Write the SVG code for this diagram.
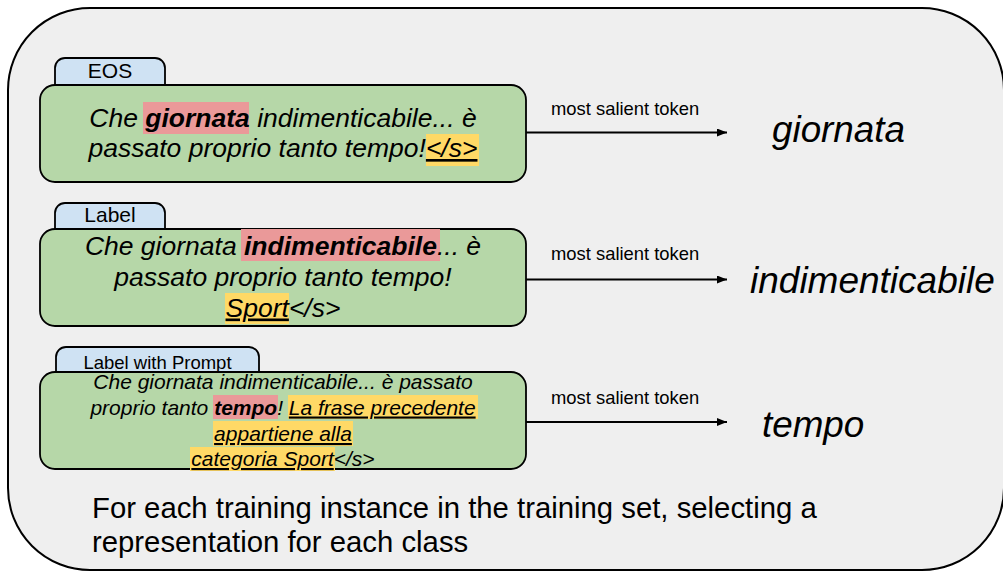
<svg xmlns="http://www.w3.org/2000/svg" width="1003" height="571" viewBox="0 0 1003 571">
<defs>
<marker id="ah" viewBox="0 0 10 8" refX="10" refY="4" markerWidth="10" markerHeight="8" markerUnits="userSpaceOnUse" orient="auto">
<path d="M0,0 L10,4 L0,8 Z" fill="#000"/>
</marker>
</defs>
<style>
.tab{fill:#cfe2f3;stroke:#000;stroke-width:1.8}
.box{fill:#b6d7a8;stroke:#000;stroke-width:1.8}
.red{fill:#ea9999}
.yel{fill:#ffd966}
.t{font-family:"Liberation Sans",Arial,sans-serif;fill:#000}
.it{font-style:italic}
.b{font-weight:bold}
.u{text-decoration:underline}
.conn{stroke:#000;stroke-width:1.8;fill:none}
</style>
<rect x="0" y="0" width="1003" height="571" fill="#fff"/>
<rect id="frame" x="8" y="8" width="996" height="562" rx="82" ry="82" fill="#efefef" stroke="#000" stroke-width="2"/>

<g id="node-eos">
<rect class="tab" x="55" y="58" width="110" height="40" rx="10"/>
<rect class="box" x="40" y="85" width="486" height="97" rx="15"/>
<text class="t" x="110" y="78" font-size="21" text-anchor="middle">EOS</text>
<rect class="red" x="143" y="102" width="106" height="32"/>
<rect class="yel" x="426" y="134" width="53" height="32"/>
<text class="t it" x="283" y="127" font-size="26.5" text-anchor="middle">Che <tspan class="b">giornata</tspan> indimenticabile... è</text>
<text class="t it" x="283" y="157" font-size="26.5" text-anchor="middle">passato proprio tanto tempo!<tspan class="u">&lt;/s&gt;</tspan></text>
</g>

<g id="node-label">
<rect class="tab" x="55" y="203" width="110" height="40" rx="10"/>
<rect class="box" x="40" y="229" width="486" height="97" rx="15"/>
<text class="t" x="110" y="222" font-size="21" text-anchor="middle">Label</text>
<rect class="red" x="241" y="229" width="199" height="32"/>
<rect class="yel" x="225" y="293" width="64" height="31"/>
<text class="t it" x="283" y="255" font-size="26.5" text-anchor="middle">Che giornata <tspan class="b">indimenticabile</tspan>... è</text>
<text class="t it" x="283" y="285.5" font-size="26.5" text-anchor="middle">passato proprio tanto tempo!</text>
<text class="t it" x="283" y="316.5" font-size="26.5" text-anchor="middle"><tspan class="u">Sport</tspan>&lt;/s&gt;</text>
</g>

<g id="node-prompt">
<rect class="tab" x="56" y="347" width="203" height="40" rx="10"/>
<rect class="box" x="40" y="372" width="486" height="97" rx="15"/>
<rect class="red" x="213" y="395" width="65" height="24"/>
<rect class="yel" x="288" y="395" width="190" height="24"/>
<rect class="yel" x="213" y="421" width="140" height="25"/>
<rect class="yel" x="190" y="447" width="145" height="24"/>
<text class="t" x="157.5" y="368.5" font-size="18.5" text-anchor="middle">Label with Prompt</text>
<text class="t it" x="283" y="388.5" font-size="21" text-anchor="middle">Che giornata indimenticabile... è passato</text>
<text class="t it" x="283" y="414.5" font-size="21" text-anchor="middle">proprio tanto <tspan class="b">tempo</tspan>! <tspan class="u">La frase precedente</tspan></text>
<text class="t it u" x="283" y="441" font-size="21" text-anchor="middle">appartiene alla</text>
<text class="t it" x="283" y="466" font-size="21" text-anchor="middle"><tspan class="u">categoria Sport</tspan>&lt;/s&gt;</text>
</g>

<g id="connectors">
<line class="conn" x1="526" y1="132.5" x2="727" y2="132.5" marker-end="url(#ah)"/>
<line class="conn" x1="526" y1="279.5" x2="727" y2="279.5" marker-end="url(#ah)"/>
<line class="conn" x1="526" y1="422" x2="727" y2="422" marker-end="url(#ah)"/>
<text class="t" x="551" y="115" font-size="18.4">most salient token</text>
<text class="t" x="551" y="260" font-size="18.4">most salient token</text>
<text class="t" x="551" y="404" font-size="18.4">most salient token</text>
</g>

<g id="out-giornata"><text class="t it" x="772" y="142" font-size="36.8">giornata</text></g>
<g id="out-indimenticabile"><text class="t it" x="750" y="293" font-size="37">indimenticabile</text></g>
<g id="out-tempo"><text class="t it" x="762" y="437" font-size="36.8">tempo</text></g>

<g id="caption">
<text class="t" x="92" y="518" font-size="29.3">For each training instance in the training set, selecting a</text>
<text class="t" x="92" y="552" font-size="29.3">representation for each class</text>
</g>
</svg>
